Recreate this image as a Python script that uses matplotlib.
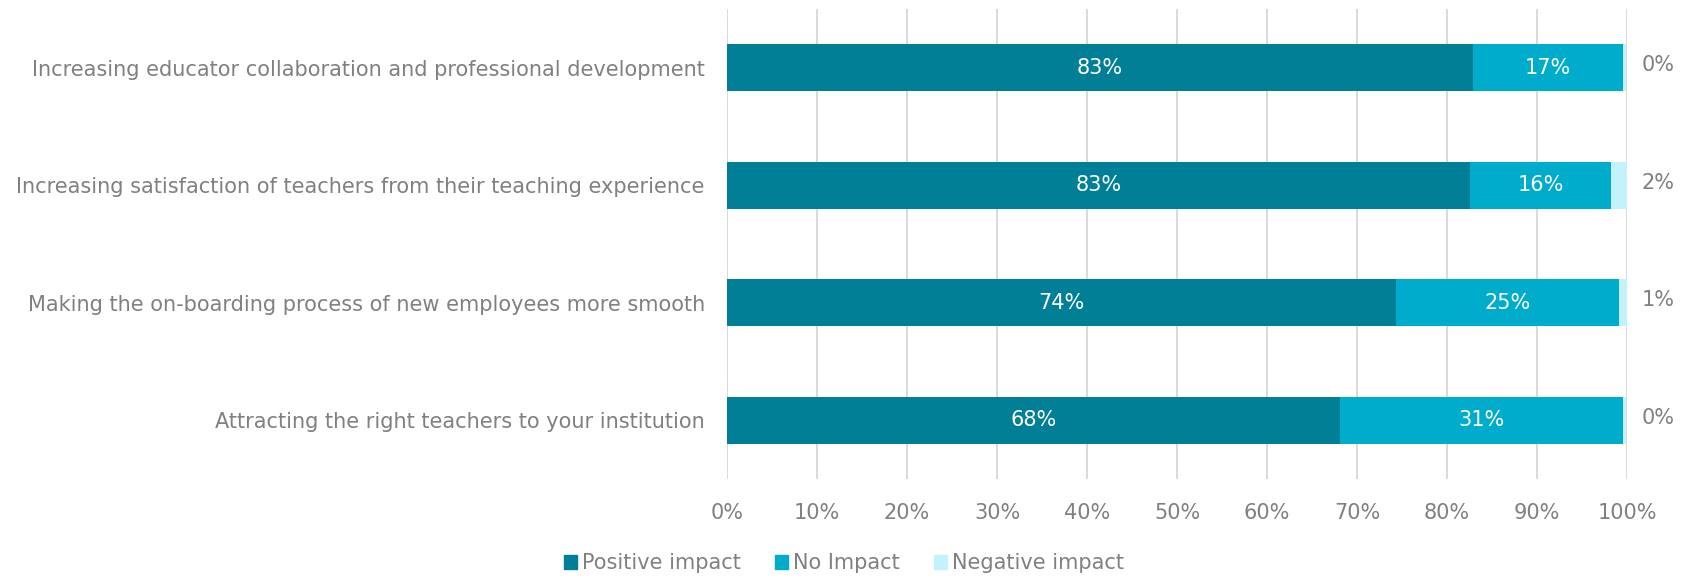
import matplotlib.pyplot as plt
from matplotlib.patches import Patch

# chart data (shares in %)
categories = [
    'Increasing educator collaboration and professional development',
    'Increasing satisfaction of teachers from their teaching experience',
    'Making the on-boarding process of new employees more smooth',
    'Attracting the right teachers to your institution',
]
positive = [82.9, 82.6, 74.3, 68.1]
no_impact = [16.6, 15.6, 24.8, 31.4]
negative = [0.4, 1.8, 0.9, 0.4]

series_names = ['Positive impact', 'No Impact', 'Negative impact']
colors = ['#007F96', '#00ACCB', '#C4F2FC']
text_gray = '#808080'
fs = 15

plt.rcParams['font.family'] = ['DejaVu Sans']

fig = plt.figure(figsize=(16.88, 5.81), dpi=100)
ax = fig.add_axes([0.4307, 0.1756, 0.9639 - 0.4307, 0.9845 - 0.1756])

ypos = list(range(len(categories)))[::-1]
bar_h = 0.40

left = [0] * len(categories)
for vals, col in zip([positive, no_impact, negative], colors):
    ax.barh(ypos, vals, left=left, height=bar_h, color=col, zorder=3)
    left = [l + v for l, v in zip(left, vals)]

# labels inside the two big segments
for y, p, n in zip(ypos, positive, no_impact):
    ax.text(p / 2, y, f'{p:.0f}%', ha='center', va='center', color='white', fontsize=fs, zorder=4)
    ax.text(p + n / 2, y, f'{n:.0f}%', ha='center', va='center', color='white', fontsize=fs, zorder=4)

# negative shares sit outside the bars, to the right
for y, ng in zip(ypos, negative):
    ax.text(101.6, y + 0.02, f'{ng:.0f}%', ha='left', va='center', color=text_gray, fontsize=fs)

ax.set_xlim(0, 100)
ax.set_ylim(-0.5, len(categories) - 0.5)
ax.set_xticks(range(0, 101, 10))
ax.set_xticklabels([f'{t}%' for t in range(0, 101, 10)])
ax.set_yticks(ypos)
ax.set_yticklabels(categories)
ax.tick_params(axis='both', length=0, colors=text_gray, labelsize=fs)
ax.tick_params(axis='y', pad=16)
ax.tick_params(axis='x', pad=17)
ax.grid(axis='x', color='#D9D9D9', linewidth=1.4, zorder=0)
for s in ax.spines.values():
    s.set_visible(False)

handles = [Patch(color=c, label=n) for c, n in zip(colors, series_names)]
leg = fig.legend(handles=handles, loc='center', bbox_to_anchor=(0.5, 0.031), ncol=3,
                 frameon=False, fontsize=fs, handlelength=0.65, handleheight=0.65,
                 handletextpad=0.25, columnspacing=1.6)
for t in leg.get_texts():
    t.set_color(text_gray)

fig.savefig('out.png', dpi=100)
